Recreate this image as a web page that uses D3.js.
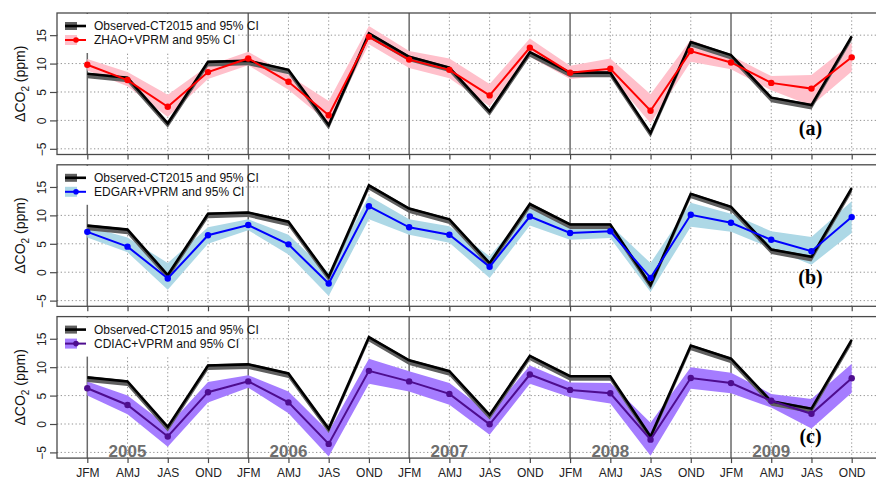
<!DOCTYPE html>
<html>
<head>
<meta charset="utf-8">
<script src="https://cdn.jsdelivr.net/npm/d3@7"></script>
<style>
  body { margin: 0; background: #fff; }
  svg { display: block; }
</style>
</head>
<body>
<svg id="chart" width="876" height="480"></svg>
<script>
// Seasonal (quarterly) CO2 enhancement, 2005-2009
const quarters = ["JFM", "AMJ", "JAS", "OND"];
const years = ["2005", "2006", "2007", "2008", "2009"];
const periodLabels = years.flatMap(() => quarters);
const yTicks = [-5, 0, 5, 10, 15];

// Observed-CT2015 and its 95% CI
const observed   = [8.2, 7.5, -0.5, 10.3, 10.5, 8.9, -0.8, 15.3, 11.2, 9.3, 1.6, 12.0, 8.4, 8.4, -2.2, 13.8, 11.5, 4.0, 2.7, 14.8];
const observedLo = [7.4, 6.7, -1.3, 9.5, 9.7, 8.1, -1.6, 14.5, 10.4, 8.5, 0.8, 11.2, 7.6, 7.6, -3.0, 13.0, 10.7, 3.2, 1.9, 14.0];
const observedHi = [8.4, 7.7, -0.3, 10.5, 10.7, 9.1, -0.6, 15.5, 11.4, 9.5, 1.8, 12.2, 8.6, 8.6, -2.0, 14.0, 11.7, 4.2, 2.9, 15.0];

// ZHAO+VPRM
const zhao   = [9.8, 7.1, 2.4, 8.5, 10.9, 6.8, 0.9, 14.7, 10.7, 8.9, 4.4, 12.8, 8.4, 9.1, 1.7, 12.2, 10.2, 6.6, 5.6, 11.1];
const zhaoLo = [8.8, 6.0, 0.6, 7.3, 9.7, 5.4, -0.4, 13.4, 9.2, 7.4, 2.5, 11.2, 7.3, 7.9, -0.5, 10.3, 9.0, 5.3, 2.6, 8.6];
const zhaoHi = [10.8, 8.5, 4.5, 9.6, 12.1, 8.0, 3.4, 16.6, 12.2, 10.9, 6.4, 14.4, 9.6, 10.9, 4.6, 14.2, 11.4, 7.8, 8.0, 13.6];

// EDGAR+VPRM
const edgar   = [7.1, 4.5, -1.1, 6.5, 8.3, 4.9, -2.0, 11.6, 7.9, 6.6, 0.95, 9.8, 6.9, 7.2, -1.0, 10.1, 8.7, 5.7, 3.7, 9.7];
const edgarLo = [6.1, 3.5, -3.1, 5.0, 7.4, 3.1, -4.2, 9.3, 6.6, 5.2, -1.0, 8.2, 5.7, 6.0, -3.5, 8.0, 7.1, 4.2, 1.3, 6.9];
const edgarHi = [8.1, 6.1, 1.6, 7.9, 9.3, 6.6, -0.1, 13.4, 9.3, 8.1, 2.8, 11.2, 7.9, 8.3, 1.6, 12.2, 10.3, 7.2, 6.2, 12.5];

// CDIAC+VPRM
const cdiac   = [6.3, 3.35, -2.2, 5.6, 7.5, 3.8, -3.5, 9.35, 7.5, 5.3, -0.05, 8.7, 6.0, 5.4, -2.75, 8.1, 7.2, 4.1, 1.8, 8.05];
const cdiacLo = [5.0, 1.7, -4.0, 3.8, 6.4, 1.9, -5.7, 7.1, 5.7, 3.4, -1.9, 7.1, 4.7, 3.6, -5.6, 6.2, 5.4, 2.9, -0.8, 5.5];
const cdiacHi = [7.5, 5.0, -0.4, 7.4, 8.6, 5.7, -1.3, 11.5, 9.3, 7.2, 1.8, 10.3, 7.3, 7.2, 0.2, 10.0, 9.0, 5.3, 4.4, 10.6];

const observedName = "Observed-CT2015 and 95% CI";
const modelNames = ["ZHAO+VPRM and 95% CI", "EDGAR+VPRM and 95% CI", "CDIAC+VPRM and 95% CI"];
const panelTags = ["(a)", "(b)", "(c)"];

// ---- layout ----
const narrow = "'Liberation Sans Narrow','Arial Narrow','Liberation Sans',Arial,sans-serif";
const sans = "'Liberation Sans',Arial,Helvetica,sans-serif";
const plotLeft = 57, plotRight = 884;
const panelTops = [13, 164.8, 316.6];
const panelH = 141.5;
const yDomain = [-6, 18.9];
const tagY = [-2.5, -2.1, -3.4];

const series = [
  { mean: zhao,  lo: zhaoLo,  hi: zhaoHi,  line: "#ff0000", band: "#ffc0cb" },
  { mean: edgar, lo: edgarLo, hi: edgarHi, line: "#0000ff", band: "#add8e6" },
  { mean: cdiac, lo: cdiacLo, hi: cdiacHi, line: "#4e0d8f", band: "#a57cff" }
];

const svg = d3.select("#chart");
const idx = d3.range(periodLabels.length);
const x = d3.scaleLinear().domain([0, periodLabels.length - 1]).range([87.3, 851.7]);

series.forEach((s, p) => {
  const top = panelTops[p];
  const y = d3.scaleLinear().domain(yDomain).range([top + panelH, top]);
  const g = svg.append("g");

  // dotted horizontal grid
  g.selectAll("line.hgrid").data(yTicks).join("line")
    .attr("x1", plotLeft).attr("x2", plotRight)
    .attr("y1", d => y(d)).attr("y2", d => y(d))
    .attr("stroke", "#939393").attr("stroke-width", 1)
    .attr("stroke-dasharray", "1.3,2.4");

  // vertical grid: dotted per quarter, solid at each year start
  g.selectAll("line.vgrid").data(idx).join("line")
    .attr("x1", d => x(d)).attr("x2", d => x(d))
    .attr("y1", top).attr("y2", top + panelH)
    .attr("stroke", d => d % 4 === 0 ? "#6a6a6a" : "#939393")
    .attr("stroke-width", d => d % 4 === 0 ? 1.5 : 1)
    .attr("stroke-dasharray", d => d % 4 === 0 ? null : "1.3,2.4");

  // legend background
  g.append("rect")
    .attr("x", plotLeft + 1).attr("y", top + 1)
    .attr("width", 179).attr("height", 39)
    .attr("fill", "#fff");

  // model CI band
  g.append("path").datum(idx)
    .attr("d", d3.area().x(i => x(i)).y0(i => y(s.lo[i])).y1(i => y(s.hi[i])))
    .attr("fill", s.band);

  // observed CI band
  g.append("path").datum(idx)
    .attr("d", d3.area().x(i => x(i)).y0(i => y(observedLo[i])).y1(i => y(observedHi[i])))
    .attr("fill", "#5f5f5f");

  // observed line
  g.append("path").datum(idx)
    .attr("d", d3.line().x(i => x(i)).y(i => y(observed[i])))
    .attr("fill", "none").attr("stroke", "#000").attr("stroke-width", 2.6)
    .attr("stroke-linejoin", "miter");

  // model line and points
  g.append("path").datum(idx)
    .attr("d", d3.line().x(i => x(i)).y(i => y(s.mean[i])))
    .attr("fill", "none").attr("stroke", s.line).attr("stroke-width", 2);
  g.selectAll("circle.pt").data(idx).join("circle")
    .attr("cx", i => x(i)).attr("cy", i => y(s.mean[i])).attr("r", 3.2)
    .attr("fill", s.line);

  // frame
  g.append("rect")
    .attr("x", plotLeft).attr("y", top)
    .attr("width", plotRight - plotLeft).attr("height", panelH)
    .attr("fill", "none").attr("stroke", "#4a4a4a").attr("stroke-width", 1.3);

  // y axis
  const ya = g.append("g").attr("transform", `translate(${plotLeft},0)`)
    .call(d3.axisLeft(y).tickValues(yTicks).tickSize(7).tickFormat(d3.format("d")));
  ya.select(".domain").remove();
  ya.selectAll(".tick line").attr("stroke", "#4a4a4a").attr("stroke-width", 1.2);
  ya.selectAll(".tick text")
    .attr("transform", "rotate(-90)")
    .attr("x", 0).attr("y", -11).attr("dy", 0)
    .attr("text-anchor", "middle")
    .attr("font-family", narrow).attr("font-size", 12).attr("fill", "#222");

  // x axis (labels on the bottom panel only)
  const last = p === series.length - 1;
  const xa = g.append("g").attr("transform", `translate(0,${top + panelH})`)
    .call(d3.axisBottom(x).tickValues(idx).tickSize(5)
      .tickFormat(i => last ? periodLabels[i] : ""));
  xa.select(".domain").remove();
  xa.selectAll(".tick line").attr("stroke", "#4a4a4a").attr("stroke-width", 1.2);
  xa.selectAll(".tick text")
    .attr("y", 18.5).attr("dy", 0)
    .attr("font-family", narrow).attr("font-size", 12).attr("fill", "#222");

  // y axis title
  const title = g.append("text")
    .attr("transform", `translate(24.5,${top + panelH / 2}) rotate(-90)`)
    .attr("text-anchor", "middle")
    .attr("font-family", sans).attr("font-size", 14).attr("fill", "#111");
  title.append("tspan").text("\u0394CO");
  title.append("tspan").attr("font-size", 10).attr("dy", 4).text("2");
  title.append("tspan").attr("dy", -4).text(" (ppm)");

  // legend
  const rows = [top + 13, top + 27];
  const lg = g.append("g");
  lg.append("rect").attr("x", 65).attr("y", rows[0] - 4).attr("width", 12).attr("height", 8).attr("fill", "#5f5f5f");
  lg.append("line").attr("x1", 65).attr("x2", 86).attr("y1", rows[0]).attr("y2", rows[0])
    .attr("stroke", "#000").attr("stroke-width", 2.6);
  lg.append("rect").attr("x", 65).attr("y", rows[1] - 5).attr("width", 12).attr("height", 10).attr("fill", s.band);
  lg.append("line").attr("x1", 65).attr("x2", 86).attr("y1", rows[1]).attr("y2", rows[1])
    .attr("stroke", s.line).attr("stroke-width", 2);
  lg.append("circle").attr("cx", 76).attr("cy", rows[1]).attr("r", 2.8).attr("fill", s.line);
  lg.selectAll("text").data([observedName, modelNames[p]]).join("text")
    .attr("x", 94).attr("y", (d, k) => rows[k]).attr("dy", "0.36em")
    .attr("font-family", narrow).attr("font-size", 12).attr("fill", "#111")
    .text(d => d);

  // year labels along the bottom panel
  if (last) {
    g.selectAll("text.year").data(years).join("text")
      .attr("x", (d, k) => x(k * 4 + 1)).attr("y", top + panelH - 1)
      .attr("text-anchor", "middle")
      .attr("font-family", sans).attr("font-weight", "bold").attr("font-size", 17)
      .attr("fill", "#6e6e6e")
      .text(d => d);
  }

  // panel tag
  g.append("text")
    .attr("x", 810.5).attr("y", y(tagY[p]))
    .attr("text-anchor", "middle")
    .attr("font-family", "'Liberation Serif','Times New Roman',serif")
    .attr("font-weight", "bold").attr("font-size", 20).attr("fill", "#000")
    .text(panelTags[p]);
});
</script>
</body>
</html>
